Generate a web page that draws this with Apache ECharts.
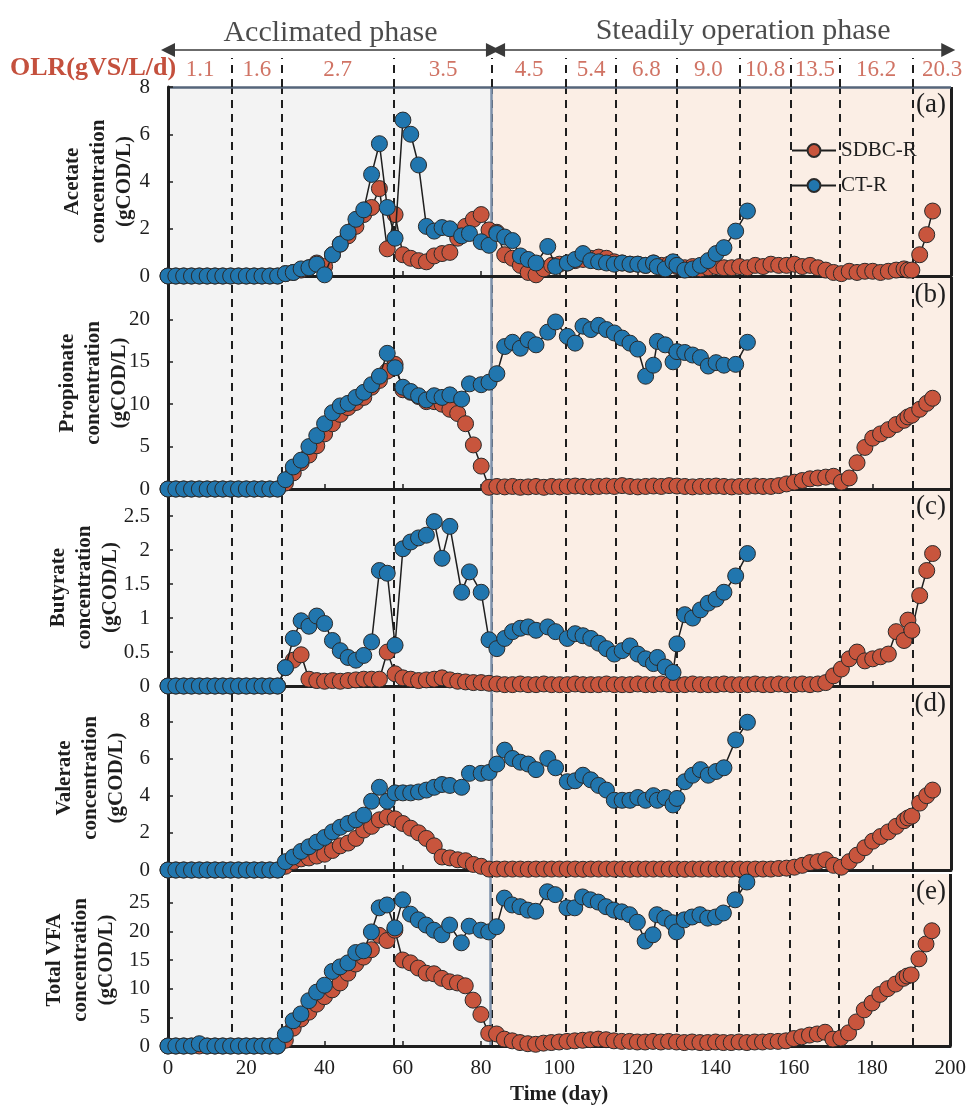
<!DOCTYPE html>
<html>
<head>
<meta charset="utf-8">
<script src="https://cdn.jsdelivr.net/npm/echarts@6/dist/echarts.min.js"></script>
<style>
html,body{margin:0;padding:0;background:#fff;}
#chart{width:969px;height:1108px;}
</style>
</head>
<body>
<div id="chart"></div>
<script>
// Sampling days of the control reactor (CT-R) and the SDBC reactor (SDBC-R)
const daysCT = [0,2,4,6,8,10,12,14,16,18,20,22,24,26,28,
  30,32,34,36,38,40,42,44,46,48,50,52,54,56,58,60,62,64,66,68,70,72,
  75,77,80,82,84,86,88,90,92,94,
  97,99,102,104,106,108,110,112,114,116,118,120,122,124,
  125,127,129,130,132,134,136,138,140,142,145,148];
const daysSD = [0,2,4,6,8,10,12,14,16,18,20,22,24,26,28,
  30,32,34,36,38,40,42,44,46,48,50,52,54,56,58,60,62,64,66,68,70,72,74,76,78,80,
  82,84,86,88,90,92,94,96,98,100,102,104,106,108,110,112,114,116,118,120,122,124,126,128,130,
  132,134,136,138,140,142,144,146,148,150,152,154,156,158,160,162,164,166,168,170,
  172,174,176,178,180,182,184,186,188,189,190,192,193.8,195.3];

// Acetate (gCOD/L)
const acetateCT = [0,0,0,0,0,0,0,0,0,0,0,0,0,0,0,
  0.1,0.15,0.3,0.35,0.5,0.05,0.9,1.35,1.85,2.4,2.8,4.3,5.6,2.9,1.6,6.6,6.0,4.7,2.1,1.9,2.05,2.0,
  1.7,1.8,1.45,1.3,1.8,1.65,1.5,0.85,0.7,0.55,
  1.25,0.4,0.55,0.7,0.95,0.65,0.6,0.55,0.5,0.55,0.5,0.5,0.45,0.55,
  0.4,0.3,0.6,0.45,0.25,0.3,0.45,0.65,0.95,1.2,1.9,2.75];
const acetateSD = [0,0,0,0,0,0,0,0,0,0,0,0,0,0,0,
  0.1,0.15,0.25,0.35,0.55,0.4,0.9,1.35,1.7,2.1,2.6,2.9,3.7,1.15,2.6,0.9,0.75,0.65,0.6,0.85,0.95,1.0,1.6,2.1,2.4,2.6,
  1.95,1.85,0.9,0.75,0.45,0.15,0.05,0.3,0.45,0.5,0.55,0.65,0.7,0.75,0.8,0.75,0.6,0.55,0.5,0.5,0.45,0.55,0.45,0.5,0.4,
  0.35,0.4,0.3,0.35,0.4,0.35,0.35,0.4,0.35,0.45,0.4,0.5,0.45,0.45,0.5,0.4,0.45,0.35,0.25,0.15,
  0.1,0.2,0.15,0.2,0.2,0.15,0.2,0.25,0.3,0.25,0.25,0.9,1.75,2.75];

// Propionate (gCOD/L)
const propionateCT = [0,0,0,0,0,0,0,0,0,0,0,0,0,0,0,
  1.1,2.6,3.4,5.0,6.3,7.7,9.0,9.8,10.1,10.8,11.4,12.3,13.3,16.0,14.3,12.0,11.5,11.0,10.5,11.0,10.8,11.1,
  10.6,12.4,12.3,12.6,13.6,16.8,17.3,16.6,17.6,17.0,
  18.5,19.7,18.0,17.2,19.2,18.8,19.3,18.8,18.4,17.8,17.2,16.5,13.3,14.6,
  17.4,17.0,15.0,16.2,16.1,15.8,15.5,14.5,14.9,14.6,14.7,17.3];
const propionateSD = [0,0,0,0,0,0,0,0,0,0,0,0,0,0,0,
  0.7,1.9,3.1,4.0,5.1,6.5,7.7,8.8,9.6,10.2,10.8,12.0,12.8,13.9,14.7,11.7,11.4,10.9,10.3,10.3,10.0,9.4,8.9,7.7,5.2,2.7,
  0.2,0.3,0.25,0.3,0.2,0.25,0.3,0.2,0.3,0.25,0.3,0.35,0.3,0.25,0.3,0.35,0.3,0.4,0.3,0.25,0.3,0.35,0.3,0.4,0.35,
  0.3,0.25,0.3,0.3,0.35,0.3,0.25,0.3,0.3,0.35,0.3,0.3,0.4,0.6,0.8,1.0,1.2,1.3,1.4,1.5,
  0.8,1.3,3.1,4.9,6.0,6.5,7.0,7.6,8.1,8.5,8.7,9.4,10.1,10.7];

// Butyrate (gCOD/L)
const butyrateCT = [0,0,0,0,0,0,0,0,0,0,0,0,0,0,0,
  0.27,0.7,0.96,0.88,1.03,0.92,0.67,0.52,0.42,0.38,0.45,0.65,1.7,1.66,0.6,2.02,2.12,2.18,2.22,2.42,1.88,2.35,
  1.38,1.68,1.38,0.68,0.55,0.7,0.8,0.85,0.87,0.82,
  0.87,0.8,0.7,0.77,0.74,0.7,0.63,0.55,0.47,0.52,0.59,0.47,0.4,0.33,
  0.42,0.28,0.2,0.62,1.05,1.0,1.12,1.22,1.28,1.38,1.62,1.95];
const butyrateSD = [0,0,0,0,0,0,0,0,0,0,0,0,0,0,0,
  0.27,0.38,0.46,0.1,0.08,0.07,0.08,0.07,0.08,0.09,0.1,0.1,0.1,0.5,0.18,0.12,0.1,0.08,0.09,0.1,0.12,0.09,0.07,0.06,0.05,0.05,
  0.04,0.03,0.02,0.02,0.03,0.02,0.02,0.03,0.02,0.02,0.02,0.03,0.02,0.02,0.02,0.03,0.02,0.02,0.02,0.03,0.02,0.02,0.03,0.02,0.02,
  0.02,0.03,0.02,0.02,0.02,0.03,0.02,0.02,0.02,0.03,0.02,0.02,0.03,0.02,0.02,0.03,0.02,0.03,0.05,0.15,
  0.25,0.4,0.5,0.37,0.4,0.43,0.47,0.8,0.67,0.97,0.82,1.33,1.7,1.95];

// Valerate (gCOD/L)
const valerateCT = [0,0,0,0,0,0,0,0,0,0,0,0,0,0,0,
  0.45,0.7,1.0,1.25,1.5,1.75,2.05,2.3,2.5,2.7,2.95,3.7,4.45,3.7,4.15,4.15,4.15,4.2,4.3,4.45,4.6,4.55,
  4.45,5.2,5.2,5.25,5.7,6.45,6.0,5.8,5.7,5.4,
  6.0,5.5,4.75,4.8,5.1,4.85,4.55,4.3,3.75,3.75,3.75,3.9,3.75,4.0,
  3.75,3.9,3.5,3.85,4.75,5.1,5.4,5.1,5.3,5.5,7.0,7.95];
const valerateSD = [0,0,0,0,0,0,0,0,0,0,0,0,0,0,0,
  0.2,0.45,0.6,0.65,0.75,0.85,1.05,1.3,1.45,1.7,2.15,2.35,2.7,2.85,2.75,2.5,2.25,2.0,1.7,1.3,0.7,0.65,0.55,0.5,0.3,0.2,
  0.05,0.05,0.05,0.05,0.05,0.04,0.05,0.05,0.05,0.05,0.05,0.05,0.04,0.05,0.05,0.05,0.05,0.05,0.04,0.05,0.05,0.05,0.05,0.05,0.05,
  0.04,0.05,0.05,0.05,0.05,0.05,0.05,0.05,0.04,0.05,0.05,0.05,0.08,0.1,0.15,0.25,0.4,0.45,0.55,0.25,
  0.15,0.45,0.8,1.2,1.55,1.8,2.05,2.35,2.65,2.8,2.9,3.6,4.0,4.3];

// Total VFA (gCOD/L)
const totalCT = [0,0,0,0,0.4,0,0,0,0,0,0,0,0,0,0,
  2.0,4.4,5.6,7.9,9.4,10.6,13.0,13.8,14.5,16.3,16.6,19.9,24.1,24.6,20.6,25.5,23.0,22.0,21.1,20.2,19.4,21.1,
  18.0,20.9,20.2,19.9,20.8,25.8,24.6,24.3,23.7,23.5,
  26.9,26.4,24.1,24.1,26.0,25.5,25.1,24.3,23.7,23.4,22.9,21.6,18.3,19.4,
  22.9,22.3,21.5,19.9,22.0,22.5,22.9,22.3,22.5,23.2,25.5,28.6];
const totalSD = [0,0,0,0,0,0,0,0,0,0,0,0,0,0,0,
  1.0,3.1,4.7,5.9,7.3,8.6,9.8,11.0,12.7,14.3,15.5,16.8,19.3,18.4,20.2,15.0,14.5,13.6,12.7,12.6,11.8,11.2,11.0,10.5,8.0,5.5,
  2.2,2.1,1.2,0.9,0.6,0.4,0.3,0.5,0.6,0.7,0.8,0.9,1.0,1.1,1.2,1.1,0.9,0.8,0.8,0.7,0.7,0.8,0.7,0.8,0.7,
  0.6,0.7,0.6,0.6,0.7,0.6,0.6,0.7,0.6,0.7,0.7,0.8,0.8,0.9,1.3,1.6,1.9,2.1,2.4,1.2,
  1.4,2.3,4.2,6.3,7.5,9.0,10.0,10.8,11.8,12.2,12.4,15.2,17.8,20.1];

// Y tick labels of each panel
const yTicksA = [0, 2, 4, 6, 8];
const yTicksB = [0, 5, 10, 15, 20];
const yTicksC = [0, 0.5, 1, 1.5, 2, 2.5];
const yTicksD = [0, 2, 4, 6, 8];
const yTicksE = [0, 5, 10, 15, 20, 25];
const xTicks = [0, 20, 40, 60, 80, 100, 120, 140, 160, 180, 200];

// Organic loading rate stages: start day of each stage and its OLR (gVS/L/d)
const olrBoundaries = [0, 16.4, 29, 57.7, 82.8, 101.7, 114.4, 130, 146, 159, 171.5, 190.3];
const olrLabels = ['1.1', '1.6', '2.7', '3.5', '4.5', '5.4', '6.8', '9.0', '10.8', '13.5', '16.2', '20.3'];
const phaseSplit = 82.5;
const phaseNames = ['Acclimated phase', 'Steadily operation phase'];

const RED = '#c8553d', BLUE = '#2176ae', INK = '#1e1e1e';
const OLR_RED = '#c4503d';
const GRAY = '#f3f3f3', PINK = '#fbeee5';
const FONT = '"Liberation Serif","Times New Roman",serif';

const panels = [
  {name: 'Acetate\nconcentration\n(gCOD/L)', tag: '(a)', sd: acetateSD, ct: acetateCT, ticks: yTicksA},
  {name: 'Propionate\nconcentration\n(gCOD/L)', tag: '(b)', sd: propionateSD, ct: propionateCT, ticks: yTicksB},
  {name: 'Butyrate\nconcentration\n(gCOD/L)', tag: '(c)', sd: butyrateSD, ct: butyrateCT, ticks: yTicksC},
  {name: 'Valerate\nconcentration\n(gCOD/L)', tag: '(d)', sd: valerateSD, ct: valerateCT, ticks: yTicksD},
  {name: 'Total VFA\nconcentration\n(gCOD/L)', tag: '(e)', sd: totalSD, ct: totalCT, ticks: yTicksE}
];
// Layout of the stacked panels
const frames = [
  {top: 87,  height: 189, max: 8,   interval: 2,   nameGap: 30},
  {top: 277, height: 212, max: 25,  interval: 5,   nameGap: 35},
  {top: 489, height: 197, max: 2.9, interval: 0.5, nameGap: 44},
  {top: 686, height: 184, max: 9.9, interval: 2,   nameGap: 38},
  {top: 874, height: 172, max: 30,  interval: 5,   nameGap: 48}
];
const PLOT_LEFT = 168, PLOT_WIDTH = 783;

const pts = (days, vals) => days.map((d, i) => [d, vals[i]]);

const grids = [], xAxes = [], yAxes = [], series = [], graphics = [];

panels.forEach((p, i) => {
  const f = frames[i];
  const last = i === panels.length - 1;
  grids.push({left: PLOT_LEFT, width: PLOT_WIDTH, top: f.top, height: f.height});
  xAxes.push({
    type: 'value', gridIndex: i, min: 0, max: 200, interval: 20, z: 2,
    axisLine: {show: true, onZero: false, lineStyle: {color: INK, width: 3}},
    axisTick: {show: true, inside: true, length: 5, lineStyle: {color: INK, width: 1.5}},
    axisLabel: {show: last, margin: 12, fontFamily: FONT, fontSize: 21, color: INK,
      formatter: v => xTicks.includes(v) ? String(v) : ''},
    splitLine: {show: false},
    name: last ? 'Time (day)' : '', nameLocation: 'middle', nameGap: 38, nameMoveOverlap: false,
    nameTextStyle: {fontFamily: FONT, fontWeight: 'bold', fontSize: 21, color: INK}
  });
  yAxes.push({
    type: 'value', gridIndex: i, min: 0, max: f.max, interval: f.interval, z: 2,
    axisLine: {show: true, lineStyle: {color: INK, width: 3}},
    axisTick: {show: true, inside: true, length: 5, lineStyle: {color: INK, width: 1.5}},
    axisLabel: {margin: 18, fontFamily: FONT, fontSize: 21, color: INK,
      formatter: v => p.ticks.some(t => Math.abs(t - v) < 1e-6) ? String(v) : ''},
    splitLine: {show: false},
    name: p.name, nameLocation: 'middle', nameRotate: 90, nameGap: f.nameGap, nameMoveOverlap: false,
    nameTextStyle: {fontFamily: FONT, fontWeight: 'bold', fontSize: 21, lineHeight: 26, color: INK}
  });

  const guides = olrBoundaries.slice(1).map(d => ({xAxis: d}));
  guides.push({xAxis: phaseSplit, lineStyle: {type: 'solid', color: '#7d90aa', width: 2.5}});
  guides.push({xAxis: 200, lineStyle: {type: 'solid', color: INK, width: 3}});
  if (i === 0) guides.push({yAxis: f.max, lineStyle: {type: 'solid', color: '#55657a', width: 2.5}});

  const common = {
    type: 'line', xAxisIndex: i, yAxisIndex: i, clip: false,
    symbol: 'circle', symbolSize: 16,
    lineStyle: {color: INK, width: 1.5}
  };
  series.push(Object.assign({}, common, {
    name: 'SDBC-R', z: 3,
    data: pts(daysSD, p.sd),
    itemStyle: {color: RED, borderColor: '#2a2a2a', borderWidth: 1},
    markArea: {silent: true, z: 1, data: [
      [{xAxis: 0, itemStyle: {color: GRAY}}, {xAxis: phaseSplit}],
      [{xAxis: phaseSplit, itemStyle: {color: PINK}}, {xAxis: 200}]
    ]},
    markLine: {silent: true, z: 2, symbol: ['none', 'none'], label: {show: false},
      lineStyle: {type: [8, 6], color: INK, width: 2}, data: guides}
  }));
  series.push(Object.assign({}, common, {
    name: 'CT-R', z: 4,
    data: pts(daysCT, p.ct),
    itemStyle: {color: BLUE, borderColor: '#2a2a2a', borderWidth: 1}
  }));

  graphics.push({type: 'text', right: 23, top: f.top + 4, z: 10,
    style: {text: p.tag, font: '27px ' + FONT, fill: INK}});
});

// Header strip: OLR stages and phase arrows, on the same day scale
const H = panels.length;
grids.push({left: PLOT_LEFT, width: PLOT_WIDTH, top: 10, height: 77});
xAxes.push({type: 'value', gridIndex: H, min: 0, max: 200, show: false});
yAxes.push({type: 'value', gridIndex: H, min: 0, max: 1, show: false});

const headerLines = olrBoundaries.slice(1).map(d => [{coord: [d, 0]}, {coord: [d, 0.377]}]);
const arrowStyle = {type: 'solid', color: '#3a3a3a', width: 1.5};
headerLines.push([{coord: [0, 0.48], symbol: 'triangle', lineStyle: arrowStyle}, {coord: [83.0, 0.48], symbol: 'triangle'}]);
headerLines.push([{coord: [84.3, 0.48], symbol: 'triangle', lineStyle: arrowStyle}, {coord: [199.3, 0.48], symbol: 'triangle'}]);

series.push({
  type: 'scatter', xAxisIndex: H, yAxisIndex: H, symbolSize: 0, silent: true, z: 5,
  data: olrLabels.map((t, i) => {
    const lastStage = i === olrLabels.length - 1;
    const x = lastStage ? olrBoundaries[i] : (olrBoundaries[i] + olrBoundaries[i + 1]) / 2;
    return lastStage ? {value: [x, 0.22], label: {align: 'left', offset: [9, 0]}} : {value: [x, 0.22]};
  }),
  label: {show: true, position: 'inside', formatter: q => olrLabels[q.dataIndex],
    color: OLR_RED, fontFamily: FONT, fontSize: 23},
  markLine: {silent: true, z: 2, symbol: ['none', 'none'], symbolSize: 14, label: {show: false},
    lineStyle: {type: [8, 6], color: INK, width: 2}, data: headerLines}
});
series.push({
  type: 'scatter', xAxisIndex: H, yAxisIndex: H, symbolSize: 0, silent: true, z: 5,
  data: [[41.5, 0.70], [146.9, 0.727]],
  label: {show: true, position: 'inside', formatter: q => phaseNames[q.dataIndex],
    color: INK, fontFamily: FONT, fontSize: 30}
});

graphics.push({type: 'text', left: 10, top: 55, z: 10,
  style: {text: 'OLR(gVS/L/d)', font: 'bold 26px ' + FONT, fill: OLR_RED}});

const chart = echarts.init(document.getElementById('chart'), null, {renderer: 'canvas'});
chart.setOption({
  animation: false,
  backgroundColor: '#ffffff',
  grid: grids,
  xAxis: xAxes,
  yAxis: yAxes,
  legend: {
    data: ['SDBC-R', 'CT-R'], orient: 'vertical', left: 786, top: 135,
    itemWidth: 44, itemHeight: 16, itemGap: 14,
    textStyle: {fontFamily: FONT, fontSize: 21, color: INK}
  },
  graphic: graphics,
  series: series
});
</script>
</body>
</html>
